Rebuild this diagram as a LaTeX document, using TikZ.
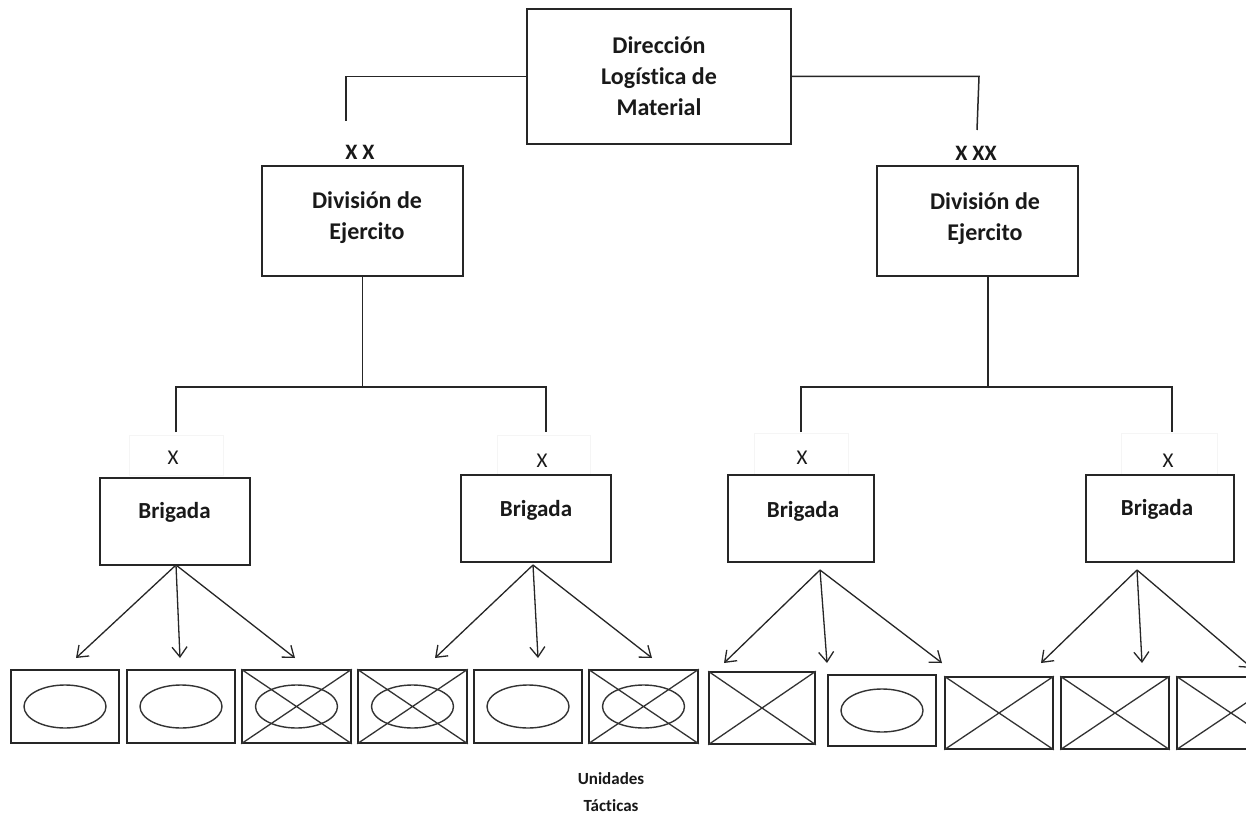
\documentclass[tikz,border=0pt]{standalone}
\usepackage{fontspec}
\setmainfont{Carlito}[Ligatures=NoCommon]
\usetikzlibrary{arrows.meta}
\begin{document}
\begin{tikzpicture}[x=1pt,y=-1pt,
  box/.style={draw=black!85, line width=1.6pt, inner sep=0pt},
  lbl/.style={font=\fontsize{24}{31}\selectfont\bfseries, align=center, inner sep=0pt, text=black!90},
  brig/.style={font=\fontsize{23}{28}\selectfont\bfseries, inner sep=0pt, text=black!90},
  xx/.style={font=\fontsize{22}{26}\selectfont\bfseries, inner sep=0pt, text=black!90},
  xone/.style={font=\fontsize{21}{25}\selectfont, inner sep=0pt, text=black!90},
  faint/.style={draw=black!4, line width=0.6pt},
  conn/.style={draw=black!85, line width=1.5pt},
  arr/.style={draw=black!85, line width=1.3pt, -{Straight Barb[length=10pt,width=15pt,line width=1.3pt]}},
  unit/.style={draw=black!85, line width=1.6pt, inner sep=0pt},
  ovl/.style={draw=black!80, line width=1.4pt},
  crs/.style={draw=black!80, line width=1.3pt}
]
\fill[white] (0,0) rectangle (1246,821);
\useasboundingbox (0,0) rectangle (1246,821);
\begin{scope}
\clip (0,0) rectangle (1246,821);

% top
\node[box, minimum width=264pt, minimum height=135pt] (top) at (659,76.5) {};
\node[lbl] (topT) at (659,76) {Dirección\\Logística de\\Material};

% divisions
\node[box, minimum width=201pt, minimum height=110pt] (divL) at (362.5,221) {};
\node[lbl] (divLt) at (367,217.5) {División de\\Ejercito};
\node[box, minimum width=201pt, minimum height=110pt] (divR) at (977.5,221) {};
\node[lbl] (divRt) at (985,219) {División de\\Ejercito};
\node[xx] (xxL) at (360,152) {X X};
\node[xx] (xxR) at (976,153) {X XX};

% top connectors
\coordinate (lTop) at (346,121);
\coordinate (rBend) at (979,76.5);
\coordinate (rTop) at (977,130);
\draw[conn] (top.west) -| (lTop);
\draw[conn] (top.east) -- (rBend) -- (rTop);

% division connectors
\coordinate (jL) at (362.5,387);
\coordinate (dLa) at (176,432);
\coordinate (dLb) at (546,432);
\draw[conn] (divL.south) -- (jL);
\draw[conn] (dLa) |- (jL) -| (dLb);
\coordinate (jR) at (988,387);
\coordinate (dRa) at (801,432);
\coordinate (dRb) at (1172,432);
\draw[conn] (988,276) -- (jR);
\draw[conn] (dRa) |- (jR) -| (dRb);

% faint label frames
\draw[faint] (129,435) rectangle (223,475);
\draw[faint] (497,435) rectangle (590,475);
\draw[faint] (754,433) rectangle (848,475);
\draw[faint] (1121,433) rectangle (1217,475);
\node[xone] (x1) at (173,458) {X};
\node[xone] (x2) at (542,461) {X};
\node[xone] (x3) at (802,458) {X};
\node[xone] (x4) at (1168,461) {X};

% brigades
\node[box, minimum width=150pt, minimum height=87pt] (bL1) at (175,521.5) {};
\node[brig] (bL1t) at (174.5,512) {Brigada};
\node[box, minimum width=150pt, minimum height=87pt] (bL2) at (536,518.5) {};
\node[brig] (bL2t) at (536,510) {Brigada};
\node[box, minimum width=146pt, minimum height=87pt] (bR1) at (801,518.5) {};
\node[brig] (bR1t) at (803,511) {Brigada};
\node[box, minimum width=148pt, minimum height=87pt] (bR2) at (1160,518.5) {};
\node[brig] (bR2t) at (1157,509) {Brigada};

% arrows
\coordinate (pA) at (176,565);
\coordinate (pA1) at (76,658); \coordinate (pA2) at (180,658); \coordinate (pA3) at (295,658);
\draw[arr] (pA) -- (pA1); \draw[arr] (pA) -- (pA2); \draw[arr] (pA) -- (pA3);
\coordinate (pB) at (533,565);
\coordinate (pB1) at (435,658); \coordinate (pB2) at (538,658); \coordinate (pB3) at (652,658);
\draw[arr] (pB) -- (pB1); \draw[arr] (pB) -- (pB2); \draw[arr] (pB) -- (pB3);
\coordinate (pC) at (820,570);
\coordinate (pC1) at (724,663); \coordinate (pC2) at (827,663); \coordinate (pC3) at (942,663);
\draw[arr] (pC) -- (pC1); \draw[arr] (pC) -- (pC2); \draw[arr] (pC) -- (pC3);
\coordinate (pD) at (1137,570);
\coordinate (pD1) at (1041,663); \coordinate (pD2) at (1142,663); \coordinate (pD3) at (1252,668);
\draw[arr] (pD) -- (pD1); \draw[arr] (pD) -- (pD2); \draw[arr] (pD) -- (pD3);

% tactical units
\foreach \n/\cx/\cy/\w/\h/\e/\c in {
  u1/65/706.5/108/73/1/0,
  u2/181/706.5/108/73/1/0,
  u3/296.5/706.5/109/73/1/1,
  u4/412.5/706.5/109/73/1/1,
  u5/528/706.5/108/73/1/0,
  u6/643.5/706.5/109/73/1/1,
  u7/762/708/106/72/0/1,
  u8/882/710.5/108/71/1/0,
  u9/999/713/108/72/0/1,
  u10/1115/713/108/72/0/1,
  u11/1231/713/108/72/0/1}{
  \node[unit, minimum width=\w pt, minimum height=\h pt] (\n) at (\cx,\cy) {};
  \ifnum\e=1
    \draw[ovl] (\n.center) ellipse [x radius=41pt, y radius=21.5pt];
  \fi
  \ifnum\c=1
    \draw[crs] (\n.north west) -- (\n.south east) (\n.north east) -- (\n.south west);
  \fi
}

\node[font=\fontsize{17}{27}\selectfont\bfseries, align=center, inner sep=0pt, text=black!90] (ut) at (611,792) {Unidades\\Tácticas};
\end{scope}
\end{tikzpicture}
\end{document}
